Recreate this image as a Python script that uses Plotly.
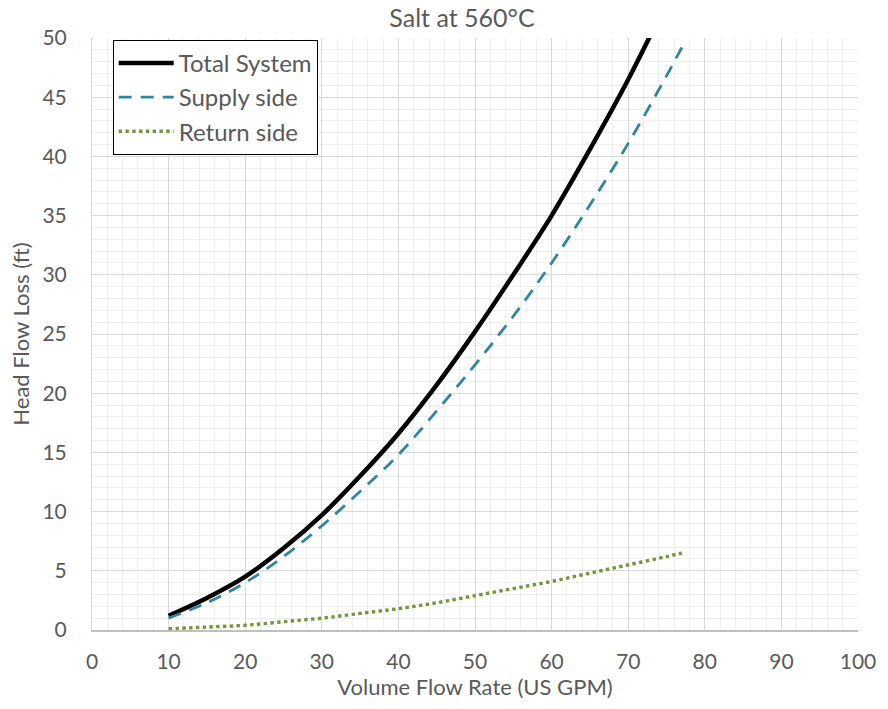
import plotly.graph_objects as go

flow_total = [10, 15, 20, 25, 30, 35, 40, 45, 50, 55, 60, 65, 70, 75]
head_total = [1.2, 2.7, 4.5, 6.9, 9.7, 13.0, 16.6, 20.7, 25.2, 30.0, 35.0, 40.6, 46.5, 53.0]

flow_supply = [10, 15, 20, 25, 30, 35, 40, 45, 50, 55, 60, 65, 70, 75, 77]
head_supply = [1.0, 2.3, 4.0, 6.2, 8.8, 11.7, 14.8, 18.5, 22.4, 26.5, 31.0, 35.9, 41.1, 46.8, 49.2]

flow_return = [10, 15, 20, 25, 30, 35, 40, 45, 50, 55, 60, 65, 70, 75, 77]
head_return = [0.1, 0.25, 0.4, 0.7, 1.0, 1.4, 1.8, 2.3, 2.9, 3.5, 4.1, 4.8, 5.5, 6.2, 6.5]

font = "Lato, 'Open Sans', sans-serif"
grey = "#595959"

fig = go.Figure()
fig.add_trace(go.Scatter(x=flow_total, y=head_total, mode="lines", name="Total System",
                         line=dict(color="black", width=4.5, shape="spline")))
fig.add_trace(go.Scatter(x=flow_supply, y=head_supply, mode="lines", name="Supply side",
                         line=dict(color="#31869B", width=2.8, dash="13px,9px", shape="spline")))
fig.add_trace(go.Scatter(x=flow_return, y=head_return, mode="lines", name="Return side",
                         line=dict(color="#77933C", width=3.4, dash="dot", shape="spline")))

fig.update_layout(
    width=888, height=709,
    margin=dict(l=92, r=26, t=38, b=79),
    paper_bgcolor="white", plot_bgcolor="white",
    font=dict(family=font, size=21, color=grey),
    title=dict(text="Salt at 560°C", xref="paper", x=0.483, xanchor="center",
               y=0.974, yanchor="middle", font=dict(size=25, color=grey)),
    showlegend=True,
    legend=dict(x=0.027, y=0.997, xanchor="left", yanchor="top",
                bordercolor="black", borderwidth=1, bgcolor="white",
                font=dict(size=24, color=grey), tracegroupgap=0, itemwidth=55),
)
fig.update_xaxes(range=[0, 100], dtick=10, tick0=0, showgrid=True, gridcolor="#d9d9d9", gridwidth=1,
                 minor=dict(dtick=2, showgrid=True, gridcolor="#efefef", gridwidth=1),
                 showline=True, linecolor="#bfbfbf", linewidth=1.5, mirror=False,
                 zeroline=False, ticks="outside", ticklen=12, tickcolor="rgba(0,0,0,0)",
                 tickfont=dict(size=21, color=grey),
                 title=dict(text="Volume Flow Rate (US GPM)", font=dict(size=22, color=grey), standoff=5))
fig.update_yaxes(range=[0, 50], dtick=5, tick0=0, showgrid=True, gridcolor="#d9d9d9", gridwidth=1,
                 minor=dict(dtick=1, showgrid=True, gridcolor="#efefef", gridwidth=1),
                 showline=True, linecolor="#d9d9d9", linewidth=1, mirror=False,
                 zeroline=False, ticks="outside", ticklen=20, tickcolor="rgba(0,0,0,0)",
                 tickfont=dict(size=21, color=grey),
                 title=dict(text="Head Flow Loss (ft)", font=dict(size=22, color=grey), standoff=6))

fig.write_html("out.html")
